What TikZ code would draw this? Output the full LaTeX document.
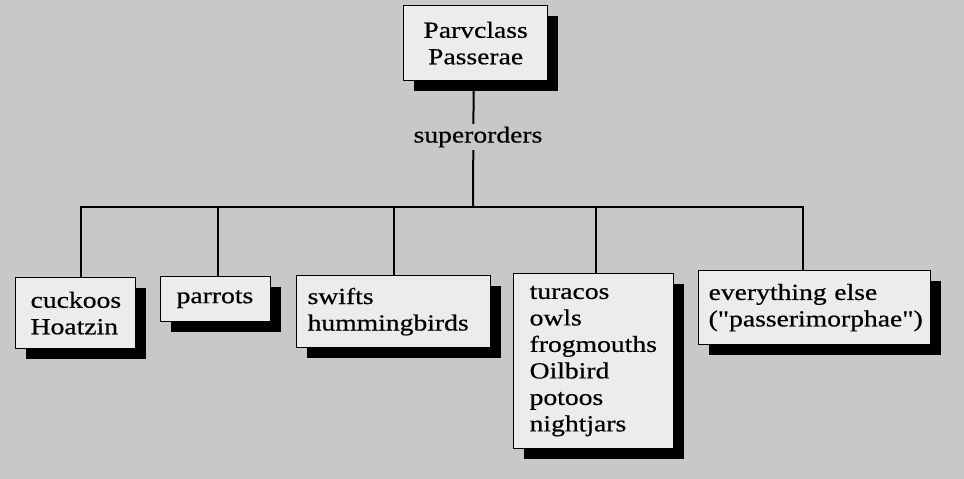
\documentclass[tikz,border=0pt]{standalone}
\usepackage{fontspec}
\newfontfamily\birdfont[FakeStretch=1.2, FakeBold=0.6]{Liberation Serif}
\usetikzlibrary{shadows}

\definecolor{bggray}{RGB}{200,200,200}
\definecolor{boxgray}{RGB}{236,236,236}

\tikzset{
    birdtext/.style={font=\birdfont\fontsize{23}{26.5}\selectfont},
    taxbox/.style={birdtext, draw=black, line width=1.3pt, fill=boxgray, anchor=north west,
        inner ysep=0pt, align=left,
        drop shadow={shadow xshift=10pt, shadow yshift=-10pt, fill=black, opacity=1}},
    branch/.style={line width=2pt}
}

\begin{document}
\begin{tikzpicture}[x=1pt, y=-1pt]
    \useasboundingbox (0,0) rectangle (964,479);
    \fill[bggray] (0,0) rectangle (964,479);

    % top of the tree
    \node[taxbox, align=center, inner xsep=0pt, minimum width=144pt, minimum height=75pt] (parv) at (403,5) {Parvclass\\Passerae};
    \coordinate (hub) at (473,207);

    % superorders
    \node[taxbox, inner xsep=15pt, text width=90pt, minimum height=71pt] (cuckoos) at (15,277) {cuckoos\\Hoatzin};
    \node[taxbox, inner xsep=16pt, text width=78pt, minimum height=45pt] (parrots) at (160,276) {parrots};
    \node[taxbox, inner xsep=11pt, text width=172pt, minimum height=72pt] (swifts) at (296,275) {swifts\\hummingbirds};
    \node[taxbox, inner xsep=16pt, text width=128pt, minimum height=175pt] (turacos) at (513,273) {turacos\\owls\\frogmouths\\Oilbird\\potoos\\nightjars};
    \node[taxbox, inner xsep=10pt, text width=212pt, minimum height=74pt] (rest) at (698,270) {everything else\\("passerimorphae")};

    % connectors
    \draw[branch] ([xshift=-2pt]parv.south) -- (hub);
    \draw[branch] ([xshift=5pt]cuckoos.north) |- (hub);
    \draw[branch] ([xshift=2pt]parrots.north) |- (hub);
    \draw[branch] (swifts.north) |- (hub);
    \draw[branch] ([xshift=2pt]turacos.north) |- (hub);
    \draw[branch] ([xshift=-12pt]rest.north) |- (hub);

    \node[birdtext, fill=bggray, inner xsep=2pt, inner ysep=3pt] (super) at (478,137) {superorders};
\end{tikzpicture}
\end{document}
